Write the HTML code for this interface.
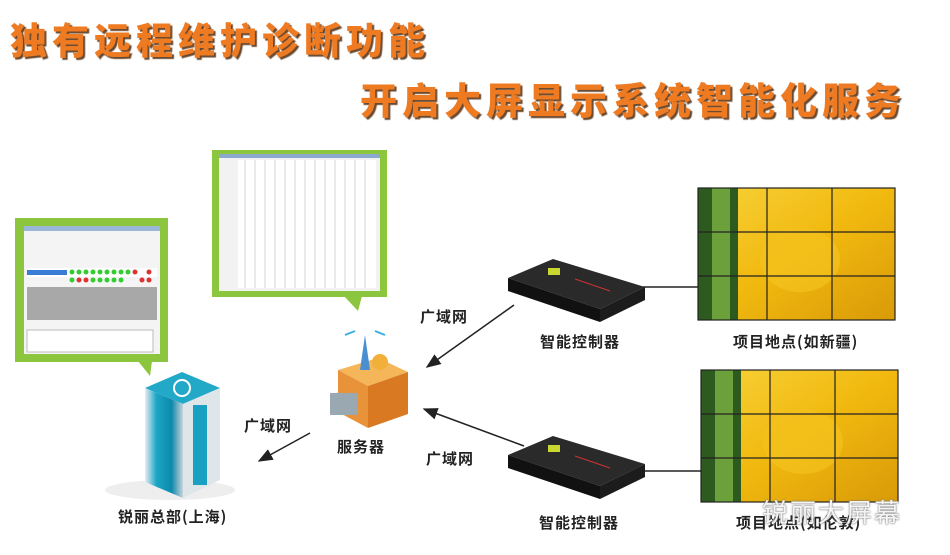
<!DOCTYPE html>
<html><head><meta charset="utf-8"><style>
body{margin:0;width:950px;height:555px;background:#fff;overflow:hidden;position:relative;font-family:"Liberation Sans","Noto Sans CJK SC",sans-serif}
.t{position:absolute;font-family:"Noto Sans CJK SC",sans-serif;font-weight:900;color:#ee7b22;font-size:37px;letter-spacing:5px;text-shadow:2px 2px 1px #6a4a30;line-height:1;white-space:nowrap}
.l{position:absolute;font-family:"Noto Sans CJK SC",sans-serif;font-weight:700;font-size:15px;color:#222;letter-spacing:1px;white-space:nowrap}
</style></head><body>
<div class="t" style="left:10px;top:20px">独有远程维护诊断功能</div>
<div class="t" style="left:360px;top:80px">开启大屏显示系统智能化服务</div>
<svg width="950" height="555" style="position:absolute;left:0;top:0">
<defs>
<marker id="a" markerWidth="10" markerHeight="8" refX="9" refY="4" orient="auto"><path d="M0,0L10,4L0,8z" fill="#222"/></marker>
<linearGradient id="rose" x1="0" y1="0" x2="1" y2="1"><stop offset="0" stop-color="#f7d23a"/><stop offset=".5" stop-color="#f1b90f"/><stop offset="1" stop-color="#d99a08"/></linearGradient>
<linearGradient id="bld" x1="0" x2="1"><stop offset="0" stop-color="#e8eef2"/><stop offset=".3" stop-color="#1ba6c6"/><stop offset=".7" stop-color="#0e89ab"/><stop offset="1" stop-color="#c8d4da"/></linearGradient>
</defs>
<rect x="15" y="218" width="153" height="144" fill="#8cc63f"/>
<polygon points="138,361 152,361 150,376" fill="#8cc63f"/>
<rect x="24" y="226" width="136" height="128" fill="#f4f4f4"/>
<rect x="24" y="226" width="136" height="5" fill="#9bb7d8"/>
<rect x="27" y="268" width="130" height="9" fill="#fff"/>
<rect x="27" y="270" width="40" height="5" fill="#3a7bd5"/>
<g fill="#3c3"><circle cx="72" cy="272" r="2.5"/><circle cx="79" cy="272" r="2.5"/><circle cx="86" cy="272" r="2.5"/><circle cx="93" cy="272" r="2.5"/><circle cx="100" cy="272" r="2.5"/><circle cx="107" cy="272" r="2.5"/><circle cx="114" cy="272" r="2.5"/><circle cx="121" cy="272" r="2.5"/><circle cx="128" cy="272" r="2.5"/><circle cx="72" cy="280" r="2.5"/><circle cx="93" cy="280" r="2.5"/><circle cx="100" cy="280" r="2.5"/><circle cx="107" cy="280" r="2.5"/><circle cx="114" cy="280" r="2.5"/><circle cx="121" cy="280" r="2.5"/></g>
<g fill="#d33"><circle cx="79" cy="280" r="2.5"/><circle cx="86" cy="280" r="2.5"/><circle cx="135" cy="272" r="2.5"/><circle cx="142" cy="280" r="2.5"/><circle cx="149" cy="280" r="2.5"/><circle cx="149" cy="272" r="2.5"/></g>
<rect x="27" y="287" width="130" height="33" fill="#a8a8a8"/>
<rect x="27" y="330" width="126" height="22" fill="#fff" stroke="#bbb"/>
<rect x="212" y="150" width="175" height="147" fill="#8cc63f"/>
<polygon points="344,296 362,296 358,311" fill="#8cc63f"/>
<rect x="219" y="154" width="161" height="137" fill="#f2f2f2"/>
<rect x="219" y="154" width="161" height="4" fill="#8aa9cc"/>
<rect x="238" y="160" width="138" height="128" fill="#fff"/>
<g stroke="#bbb" stroke-width=".6">
<line x1="245" y1="160" x2="245" y2="288"/><line x1="255" y1="160" x2="255" y2="288"/><line x1="265" y1="160" x2="265" y2="288"/><line x1="275" y1="160" x2="275" y2="288"/><line x1="285" y1="160" x2="285" y2="288"/><line x1="295" y1="160" x2="295" y2="288"/><line x1="305" y1="160" x2="305" y2="288"/><line x1="315" y1="160" x2="315" y2="288"/><line x1="325" y1="160" x2="325" y2="288"/><line x1="335" y1="160" x2="335" y2="288"/><line x1="345" y1="160" x2="345" y2="288"/><line x1="355" y1="160" x2="355" y2="288"/><line x1="365" y1="160" x2="365" y2="288"/>
</g>
<ellipse cx="170" cy="490" rx="65" ry="10" fill="#eee"/>
<polygon points="145,388 182,372 220,388 183,404" fill="#23a9c8"/>
<polygon points="145,388 183,404 183,498 145,482" fill="url(#bld)"/>
<polygon points="183,404 220,388 220,480 183,498" fill="#dfe6ea"/>
<rect x="193" y="405" width="14" height="80" fill="#19a0c2"/>
<circle cx="182" cy="388" r="8" fill="none" stroke="#fff" stroke-width="2"/>
<polygon points="338,370 378,358 408,372 368,386" fill="#f5b659"/>
<polygon points="338,370 368,386 368,428 338,412" fill="#e8923a"/>
<polygon points="368,386 408,372 408,414 368,428" fill="#d97a23"/>
<rect x="330" y="393" width="28" height="22" fill="#9aa8b2"/>
<polygon points="360,370 365,335 370,370" fill="#4a8fd0"/>
<circle cx="380" cy="362" r="8" fill="#f0b03a"/>
<path d="M345,335 l10,-4 M375,331 l10,4" stroke="#3ab0e0" stroke-width="2"/>
<g stroke="#222" stroke-width="1.5" fill="none">
<line x1="310" y1="433" x2="259" y2="461" marker-end="url(#a)"/>
<line x1="514" y1="305" x2="427" y2="367" marker-end="url(#a)"/>
<line x1="524" y1="446" x2="424" y2="409" marker-end="url(#a)"/>
<line x1="643" y1="287" x2="700" y2="287"/>
<line x1="643" y1="471" x2="703" y2="471"/>
</g>
<g id="c">
<polygon points="508,278 553,259 645,287 600,309" fill="#2a2a2a"/>
<polygon points="508,278 600,309 600,322 508,291" fill="#111"/>
<polygon points="600,309 645,287 645,300 600,322" fill="#1c1c1c"/>
<rect x="548" y="268" width="12" height="7" fill="#c8d830"/>
<line x1="575" y1="279" x2="610" y2="291" stroke="#c33" stroke-width="1"/>
</g>
<use href="#c" x="0" y="177"/>
<g id="w">
<rect x="698" y="188" width="197" height="132" fill="url(#rose)"/>
<rect x="698" y="188" width="40" height="132" fill="#2d5a1e"/>
<rect x="712" y="188" width="18" height="132" fill="#6ba03a"/>
<ellipse cx="800" cy="260" rx="40" ry="32" fill="#f4c21e" opacity=".7"/>
<g stroke="#222" stroke-width="1.2" fill="none"><rect x="698" y="188" width="197" height="132"/>
<line x1="767" y1="188" x2="767" y2="320"/><line x1="832" y1="188" x2="832" y2="320"/>
<line x1="698" y1="232" x2="895" y2="232"/><line x1="698" y1="276" x2="895" y2="276"/></g>
</g>
<use href="#w" x="3" y="182"/>
</svg>
<div class="l" style="left:420px;top:306px">广域网</div>
<div class="l" style="left:426px;top:448px">广域网</div>
<div class="l" style="left:244px;top:415px">广域网</div>
<div class="l" style="left:337px;top:436px">服务器</div>
<div class="l" style="left:118px;top:506px">锐丽总部(上海)</div>
<div class="l" style="left:540px;top:331px">智能控制器</div>
<div class="l" style="left:539px;top:512px">智能控制器</div>
<div class="l" style="left:733px;top:331px">项目地点(如新疆)</div>
<div class="l" style="left:736px;top:512px">项目地点(如伦敦)</div>
<div style="position:absolute;left:762px;top:493px;font-family:'Noto Sans CJK SC',sans-serif;font-size:26px;color:#f4f4f4;text-shadow:0 0 2px #777,0 0 1px #777;letter-spacing:2px">锐丽大屏幕</div>
</body></html>
